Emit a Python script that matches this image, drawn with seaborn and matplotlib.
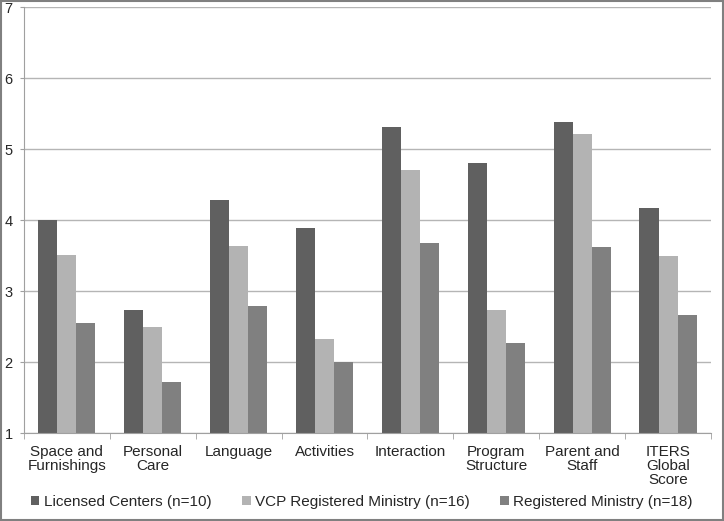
import pandas as pd
import matplotlib
matplotlib.use("Agg")
import matplotlib.pyplot as plt
import seaborn as sns

categories = ["Space and\nFurnishings", "Personal\nCare", "Language", "Activities",
              "Interaction", "Program\nStructure", "Parent and\nStaff", "ITERS\nGlobal\nScore"]
licensed = [4.00, 2.74, 4.29, 3.89, 5.31, 4.81, 5.39, 4.17]
vcp_registered = [3.51, 2.50, 3.64, 2.33, 4.71, 2.74, 5.21, 3.50]
registered = [2.55, 1.72, 2.80, 2.00, 3.68, 2.28, 3.63, 2.67]
series_names = ["Licensed Centers (n=10)", "VCP Registered Ministry (n=16)",
                "Registered Ministry (n=18)"]
colors = ["#606060", "#b3b3b3", "#808080"]

rows = []
for name, vals in zip(series_names, [licensed, vcp_registered, registered]):
    for cat, v in zip(categories, vals):
        rows.append({"Category": cat, "Group": name, "Score": v})
df = pd.DataFrame(rows)

sns.set_style("white")
plt.rcParams["font.family"] = ["Liberation Sans", "DejaVu Sans"]

fig = plt.figure(figsize=(7.24, 5.21), dpi=100)
ax = fig.add_axes([0.033, 0.168, 0.949, 0.818])

sns.barplot(data=df, x="Category", y="Score", hue="Group", order=categories,
            hue_order=series_names, palette=colors, width=0.665, gap=0,
            linewidth=0, edgecolor="none", ax=ax, legend=True)

ax.set_ylim(1, 7)
ax.set_xlim(-0.5, len(categories) - 0.5)
ax.set_yticks(range(1, 8))
ax.yaxis.grid(True, color="#b5b5b5", linewidth=1)
ax.set_axisbelow(True)
ax.set_xlabel("")
ax.set_ylabel("")

for s in ["top", "right"]:
    ax.spines[s].set_visible(False)
for s in ["left", "bottom"]:
    ax.spines[s].set_color("#a0a0a0")

ax.tick_params(axis="y", labelsize=10.5, left=True, length=3, color="#a0a0a0", pad=5)
ax.tick_params(axis="x", which="major", length=0, labelsize=11, pad=8)
ax.set_xticks([i - 0.5 for i in range(len(categories) + 1)], minor=True)
ax.tick_params(axis="x", which="minor", length=4, color="#a0a0a0", bottom=True)
for lbl in ax.get_xticklabels():
    lbl.set_linespacing(1.0)

handles, labels = ax.get_legend_handles_labels()
ax.get_legend().remove()
fig.legend(handles, labels, loc="lower center", bbox_to_anchor=(0.5, -0.003),
           ncol=3, frameon=False, fontsize=11, handlelength=0.55,
           handleheight=0.55, handletextpad=0.3, columnspacing=2.0)

# outer frame
fig.patches.append(plt.Rectangle((0.001, 0.001), 0.998, 0.998, transform=fig.transFigure,
                                 fill=False, edgecolor="#808080", linewidth=1.5))

fig.savefig("out.png", dpi=100)
